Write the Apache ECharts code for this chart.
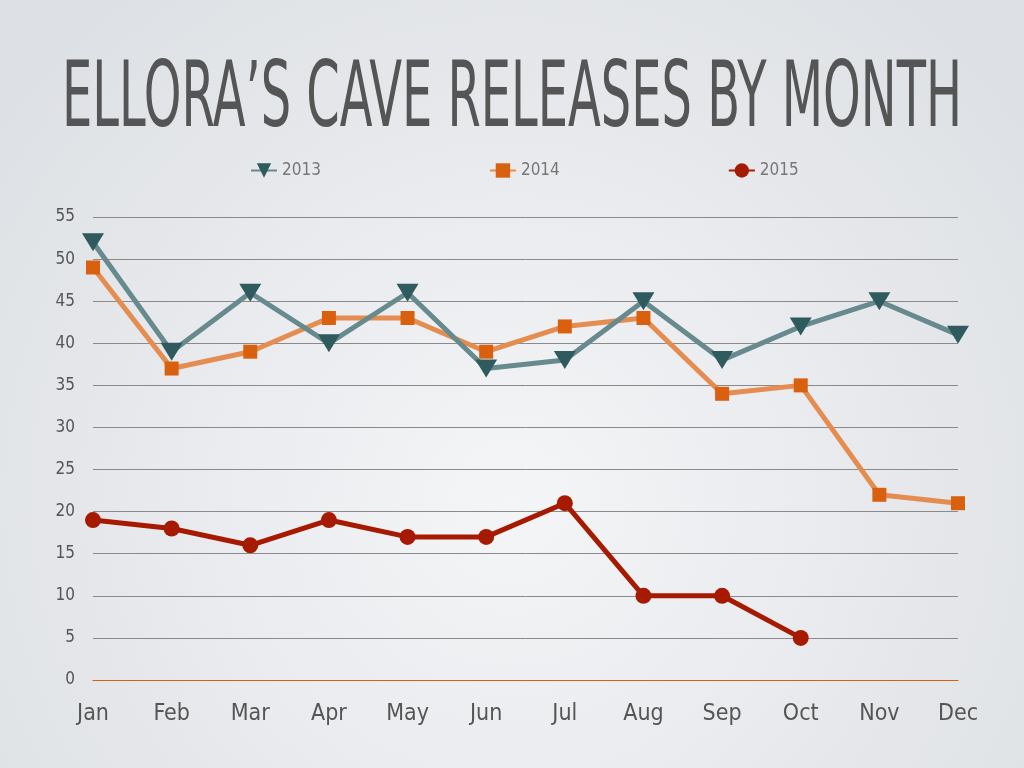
<!DOCTYPE html>
<html><head><meta charset="utf-8">
<script src="https://cdn.jsdelivr.net/npm/echarts@6/dist/echarts.min.js"></script>
<style>html,body{margin:0;padding:0;}#c{width:1024px;height:768px;}</style>
</head><body><div id="c"></div>
<script>
const months = ['Jan','Feb','Mar','Apr','May','Jun','Jul','Aug','Sep','Oct','Nov','Dec'];
const s2013 = [52,39,46,40,46,37,38,45,38,42,45,41];
const s2014 = [49,37,39,43,43,39,42,43,34,35,22,21];
const s2015 = [19,18,16,19,17,17,21,10,10,5];
const titleText = 'ELLORA\u2019S CAVE RELEASES BY MONTH';

const FONT = '"Liberation Sans Narrow","DejaVu Sans Condensed",sans-serif';
const chart = echarts.init(document.getElementById('c'));

const cv = document.createElement('canvas').getContext('2d');
cv.font = '90px ' + FONT;
const tw = cv.measureText(titleText).width;
const sx = 900 / tw;

chart.setOption({
  backgroundColor: {type:'radial', x:0.5, y:0.65, r:0.85, colorStops:[{offset:0,color:'#f4f5f7'},{offset:1,color:'#dde0e4'}]},
  graphic: [{
    type:'text', left: 62, top: 58, scaleX: sx, originX: 0,
    style:{text: titleText, font: '90px ' + FONT, fill:'#555555'}
  }],
  legend: {
    top: 157, left: 245, itemGap: 168, itemWidth: 26, itemHeight: 18,
    textStyle:{color:'#777', fontSize:17, fontFamily: FONT},
    data:['2013','2014','2015']
  },
  grid: {left:93, right:66, top:217, bottom:88},
  xAxis: {
    type:'category', data: months, boundaryGap:false,
    axisLine:{lineStyle:{color:'#d9600e', width:1}},
    axisTick:{show:false},
    axisLabel:{color:'#555', fontSize:23, fontFamily: FONT, margin:23},
    splitLine:{show:false}
  },
  yAxis: {
    type:'value', min:0, max:55, interval:5,
    axisLine:{show:false}, axisTick:{show:false},
    axisLabel:{color:'#555', fontSize:17, fontFamily: FONT, margin:18},
    splitLine:{lineStyle:{color:'#8a8a8a', width:1}}
  },
  series: [
    {name:'2013', type:'line', data:s2013, symbol:'triangle', symbolRotate:180, symbolSize:[22,18],
     lineStyle:{color:'#668a8e', width:5}, itemStyle:{color:'#2f5a5e'}, z:3},
    {name:'2014', type:'line', data:s2014, symbol:'rect', symbolSize:14,
     lineStyle:{color:'#e58c50', width:5}, itemStyle:{color:'#d9600e'}, z:2},
    {name:'2015', type:'line', data:s2015, symbol:'circle', symbolSize:16,
     lineStyle:{color:'#a51a00', width:5}, itemStyle:{color:'#a51a00'}, z:4}
  ]
});
</script></body></html>
